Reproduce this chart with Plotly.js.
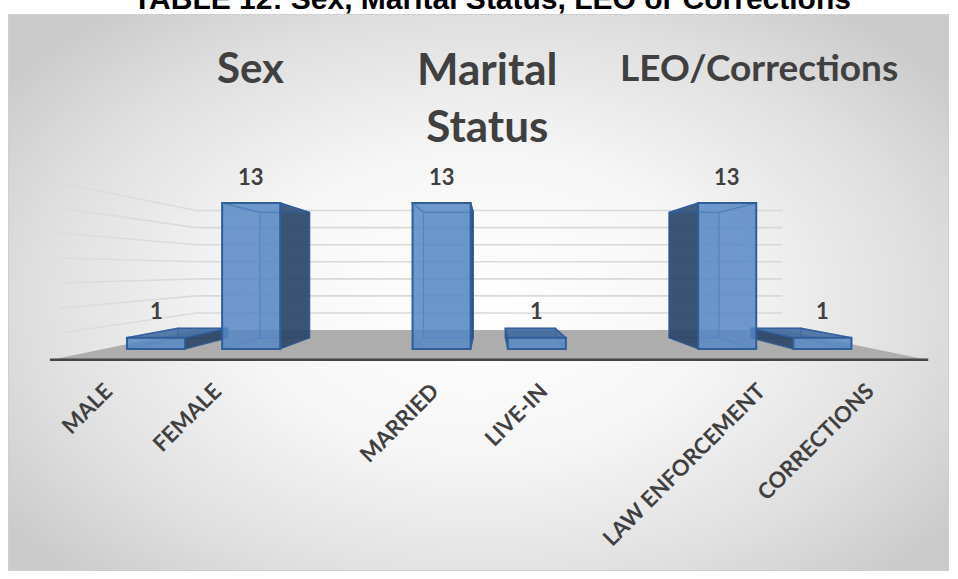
<!DOCTYPE html>
<html>
<head>
<meta charset="utf-8">
<script src="https://cdn.plot.ly/plotly-3.0.1.min.js"></script>
<style>
  html, body { margin: 0; padding: 0; background: #ffffff; }
  #wrap { position: relative; width: 958px; height: 579px; overflow: hidden; }
  #bg { position: absolute; left: 8px; top: 14px; width: 939px; height: 555px;
        border: 1px solid #cfcfcf;
        background: radial-gradient(ellipse 62% 68% at 50% 52%, #ffffff 0%, #f6f6f6 40%, #e0e0e0 75%, #cbcbcb 100%); }
  #chart { position: absolute; left: 0; top: 0; width: 958px; height: 579px; }
</style>
</head>
<body>
<div id="wrap"><div id="bg"></div><div id="chart"></div></div>
<script>
// ---------------- data ----------------
const chartTitle   = 'TABLE 12: Sex, Marital Status, LEO or Corrections';
const categories   = ['MALE', 'FEMALE', 'MARRIED', 'LIVE-IN', 'LAW ENFORCEMENT', 'CORRECTIONS'];
const categoryGroup = ['Sex', 'Sex', 'Marital Status', 'Marital Status', 'LEO/Corrections', 'LEO/Corrections'];
const counts       = [1, 13, 13, 1, 13, 1];
const groupTitles  = ['Sex', 'Marital<br>Status', 'LEO/Corrections'];
const gridValues   = [2, 4, 6, 8, 10, 12, 14];

// ---------------- layout geometry ----------------
const W = 958, H = 579;
const PX = 95.2, X0 = 156;          // px per category slot, pixel of first slot
const PY = 11.23, Y0 = 349;         // px per unit, pixel of value 0 on bar front plane
const AXIS_PIX = 361;               // bottom of plotting domain (floor front edge)
const xmin = -X0 / PX, xmax = xmin + W / PX;
const ymin = -(AXIS_PIX - Y0) / PY, ymax = Y0 / PY;
const vx = xmin + 490 / PX, vy = (Y0 - 270) / PY;   // perspective vanishing point
const BAR_W = 0.61, BACK = 0.86, FLOOR_FRONT = 1.139, FLOOR_BACK = 0.76, WALL_FRONT = 1.113, FLOOR_PAD = 0.55;

// slots: one empty slot between groups
const groupOrder = [];
categoryGroup.forEach(g => { if (!groupOrder.includes(g)) groupOrder.push(g); });
const slots = categories.map((c, i) => i + groupOrder.indexOf(categoryGroup[i]));

function proj(x, v, f) { return [vx + f * (x - vx), vy + f * (v - vy)]; }
function poly(pts) { return 'M' + pts.map(p => p[0] + ',' + p[1]).join(' L') + ' Z'; }

const shapes = [];
const lo = Math.min(...slots) - FLOOR_PAD, hi = Math.max(...slots) + FLOOR_PAD;

// floor
shapes.push({ type: 'path', xref: 'x', yref: 'y', layer: 'below',
  path: poly([proj(lo, 0, FLOOR_FRONT), proj(hi, 0, FLOOR_FRONT), proj(hi, 0, FLOOR_BACK), proj(lo, 0, FLOOR_BACK)]),
  fillcolor: '#adadad', line: { width: 0 } });
// grid lines: back wall and left wall
gridValues.forEach(g => {
  const a = proj(lo, g, FLOOR_BACK), b = proj(hi, g, FLOOR_BACK), c = proj(lo, g, WALL_FRONT);
  shapes.push({ type: 'line', xref: 'x', yref: 'y', layer: 'below', x0: a[0], y0: a[1], x1: b[0], y1: b[1],
    line: { color: '#d9d9d9', width: 1.6 } });
  shapes.push({ type: 'line', xref: 'x', yref: 'y', layer: 'below', x0: c[0], y0: c[1], x1: a[0], y1: a[1],
    line: { color: '#dcdcdc', width: 1.6 } });
});
// floor front edge (axis line)
{
  const a = proj(lo, 0, FLOOR_FRONT), b = proj(hi, 0, FLOOR_FRONT);
  shapes.push({ type: 'line', xref: 'x', yref: 'y', layer: 'below', x0: a[0], y0: a[1], x1: b[0], y1: b[1],
    line: { color: '#454545', width: 3.2 } });
}
// 3-D faces of bars
const EDGE = 'rgba(47,94,155,0.9)';
slots.forEach((s, i) => {
  const v = counts[i], x0 = s - BAR_W / 2, x1 = s + BAR_W / 2;
  const fb = [[x0, 0], [x1, 0], [x1, v], [x0, v]];
  const bk = fb.map(p => proj(p[0], p[1], BACK));
  shapes.push({ type: 'path', xref: 'x', yref: 'y', layer: 'below', path: poly(bk),
    fillcolor: 'rgba(79,129,189,0.30)', line: { color: 'rgba(47,94,155,0.55)', width: 1.2 } });
  const leftVis = x0 > vx, rightVis = x1 < vx, topVis = v < vy;
  shapes.push({ type: 'path', xref: 'x', yref: 'y', layer: 'below', path: poly([fb[0], fb[3], bk[3], bk[0]]),
    fillcolor: leftVis ? 'rgba(40,66,100,0.88)' : 'rgba(79,129,189,0.15)',
    line: { color: leftVis ? EDGE : 'rgba(47,94,155,0.5)', width: 1.2 } });
  shapes.push({ type: 'path', xref: 'x', yref: 'y', layer: 'below', path: poly([fb[1], fb[2], bk[2], bk[1]]),
    fillcolor: rightVis ? 'rgba(40,66,100,0.88)' : 'rgba(79,129,189,0.15)',
    line: { color: rightVis ? EDGE : 'rgba(47,94,155,0.5)', width: 1.2 } });
  shapes.push({ type: 'path', xref: 'x', yref: 'y', layer: 'below', path: poly([fb[3], fb[2], bk[2], bk[3]]),
    fillcolor: topVis ? 'rgba(62,105,160,0.85)' : 'rgba(79,129,189,0.15)',
    line: { color: EDGE, width: 1.4 } });
});

// ---------------- traces ----------------
const traces = [{
  type: 'bar', x: slots, y: counts, width: BAR_W, xaxis: 'x', yaxis: 'y',
  marker: { color: 'rgba(86,136,197,0.82)', line: { color: 'rgb(47,94,155)', width: 2 } },
  hoverinfo: 'skip', showlegend: false
}];

// ---------------- annotations ----------------
const annotations = [];
slots.forEach((s, i) => annotations.push({
  xref: 'x', yref: 'y', x: s, y: counts[i], yshift: 27, showarrow: false,
  text: String(counts[i]), font: { family: 'Lato', size: 22, color: '#404040', weight: 700 }
}));
const headX = [250, 487, 759];
const headSize = [42, 44, 37];
const headTop = [40, 40, 42];
groupTitles.forEach((t, i) => annotations.push({
  xref: 'paper', yref: 'paper', x: headX[i] / W, y: 1 - headTop[i] / H, xanchor: 'center', yanchor: 'top',
  showarrow: false, text: t, font: { family: 'Lato', size: headSize[i], color: '#404040', weight: 700 }
}));
annotations.push({
  xref: 'paper', yref: 'paper', x: 492 / W, y: 1, xanchor: 'center', yanchor: 'bottom', yshift: -17,
  showarrow: false, text: chartTitle, font: { family: 'Liberation Sans', size: 30, color: '#000000', weight: 700 }
});

const LBL_PX = 108.8, LBL_X0 = 106;
const x2min = -LBL_X0 / LBL_PX, x2max = x2min + W / LBL_PX;

const layout = {
  width: W, height: H, margin: { l: 0, r: 0, t: 0, b: 0 },
  paper_bgcolor: 'rgba(0,0,0,0)', plot_bgcolor: 'rgba(0,0,0,0)',
  showlegend: false,
  xaxis: { range: [xmin, xmax], showticklabels: false, showgrid: false, zeroline: false, showline: false, ticks: '', fixedrange: true },
  xaxis2: { overlaying: 'x', anchor: 'y', side: 'bottom', range: [x2min, x2max],
    tickmode: 'array', tickvals: slots, ticktext: categories, tickangle: -45, ticks: '',
    ticklabelstandoff: 12,
    tickfont: { family: 'Lato', size: 22, color: '#404040', weight: 700 },
    showgrid: false, zeroline: false, showline: false, fixedrange: true },
  yaxis: { domain: [(H - AXIS_PIX) / H, 1], range: [ymin, ymax], visible: false, showgrid: false, zeroline: false, fixedrange: true },
  shapes: shapes, annotations: annotations
};

traces.push({ type: 'scatter', x: slots, y: counts.map(() => 0), xaxis: 'x2', yaxis: 'y', mode: 'markers',
  marker: { opacity: 0 }, hoverinfo: 'skip', showlegend: false });

Plotly.newPlot('chart', traces, layout, { staticPlot: true, displayModeBar: false });
</script>
</body>
</html>
